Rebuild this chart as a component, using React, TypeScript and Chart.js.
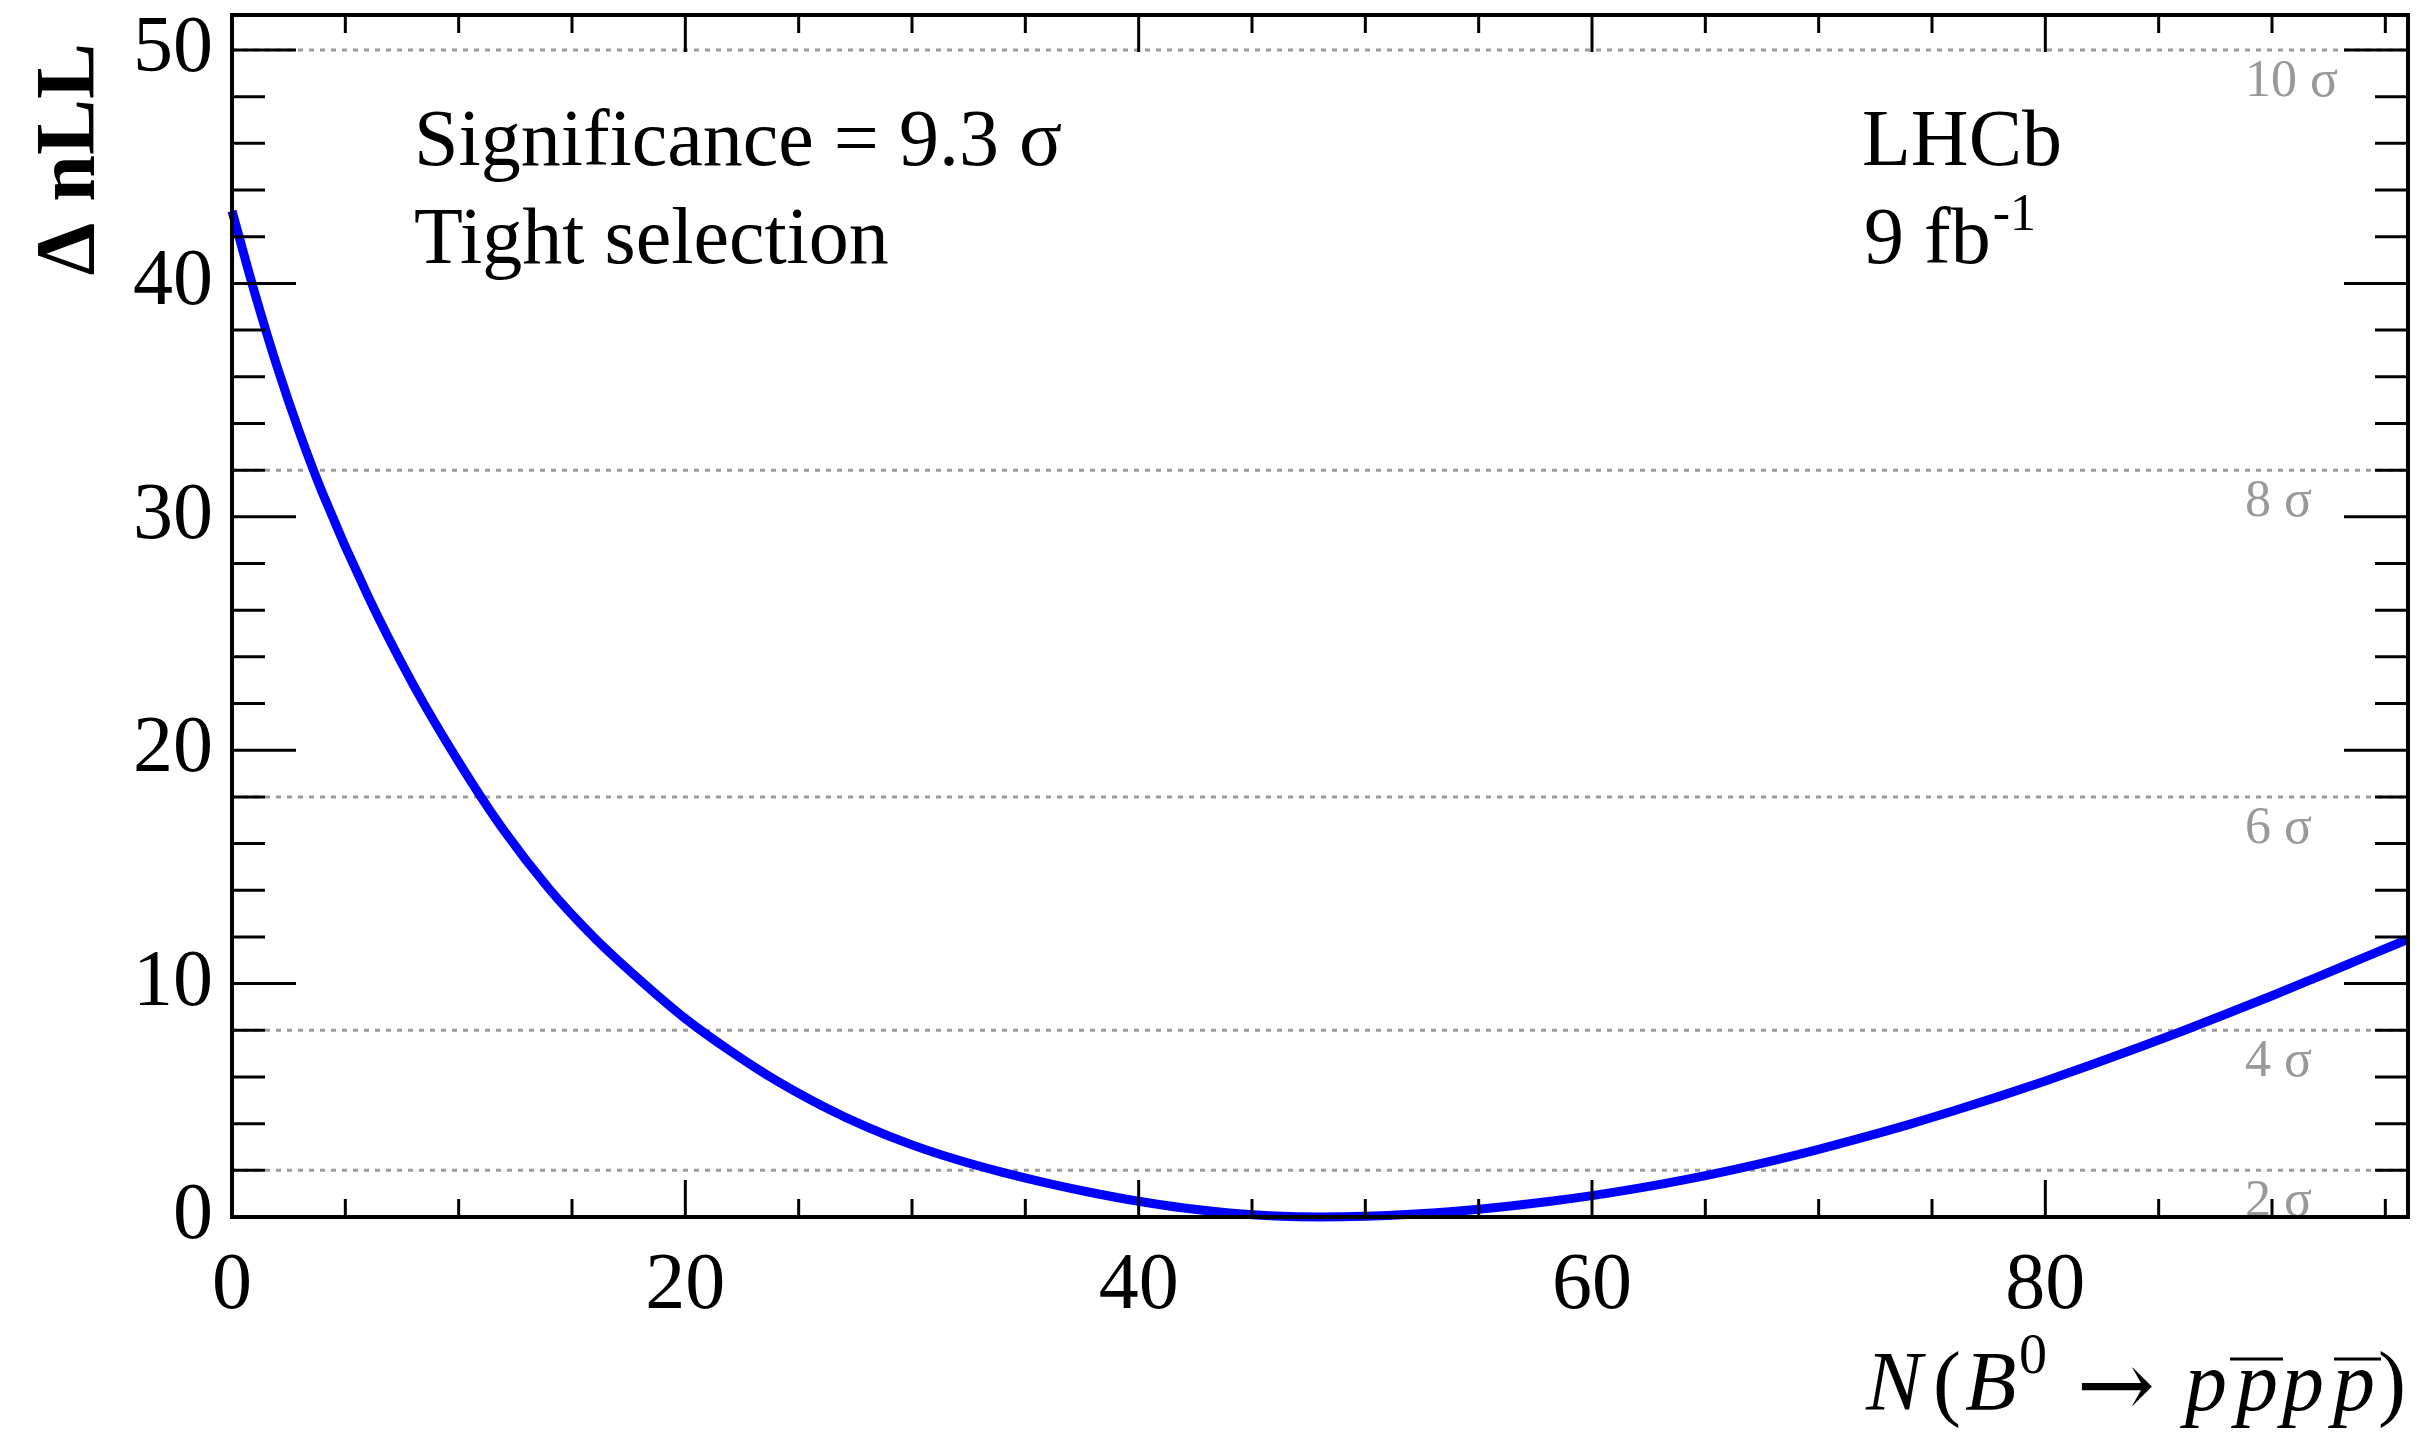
import React, { useEffect, useRef } from 'react';
import { Chart, registerables } from 'chart.js';

Chart.register(...registerables);

// ---------------- data ----------------
const nValues = [0, 1, 2, 3, 4, 6, 8, 10, 12, 14, 16, 18, 20, 22, 24, 26, 28, 30, 32, 34, 36, 38, 40, 42, 44, 46, 48, 50, 52, 54, 56, 58, 60, 62, 64, 66, 68, 70, 72, 74, 76, 78, 80, 82, 84, 86, 88, 90, 92, 94, 96];
const dnllValues = [43.1, 39.6, 36.4, 33.55, 31.0, 26.6, 22.8, 19.5, 16.55, 14.05, 11.95, 10.15, 8.5, 7.1, 5.85, 4.78, 3.86, 3.09, 2.45, 1.91, 1.44, 1.03, 0.675, 0.385, 0.175, 0.045, 0.0, 0.03, 0.115, 0.25, 0.43, 0.65, 0.915, 1.225, 1.58, 1.98, 2.42, 2.9, 3.42, 3.97, 4.56, 5.18, 5.83, 6.51, 7.22, 7.95, 8.71, 9.48, 10.28, 11.09, 11.9];

const sigmaLevels = [2, 4, 6, 8, 10];
const sigmaDnll = [2, 8, 18, 32, 50];
const sigmaLabels = ['2 σ', '4 σ', '6 σ', '8 σ', '10 σ'];

const xTickValues = [0, 20, 40, 60, 80];
const xTickLabels = ['0', '20', '40', '60', '80'];
const yTickValues = [0, 10, 20, 30, 40, 50];
const yTickLabels = ['0', '10', '20', '30', '40', '50'];

const X_MIN = 0;
const X_MAX = 96;
const Y_MIN = 0;
const Y_MAX = 51.5;
const X_MINOR_STEP = 5;
const X_MAJOR_STEP = 20;
const Y_MINOR_STEP = 2;
const Y_MAJOR_STEP = 10;

// ---------------- layout ----------------
const W = 2423;
const H = 1435;
const SERIF = "'Liberation Serif', 'Times New Roman', serif";

function line(ctx: CanvasRenderingContext2D, x1: number, y1: number, x2: number, y2: number) {
  ctx.beginPath();
  ctx.moveTo(x1, y1);
  ctx.lineTo(x2, y2);
  ctx.stroke();
}

const sigmaLabelPlugin = {
  id: 'sigmaLabels',
  beforeDatasetsDraw(chart: any) {
    const ctx: CanvasRenderingContext2D = chart.ctx;
    const { left, right, top, bottom } = chart.chartArea;
    const ys = chart.scales.y;
    ctx.save();
    ctx.beginPath();
    ctx.rect(left, top, right - left, bottom - top);
    ctx.clip();
    ctx.fillStyle = '#999999';
    ctx.font = `52px ${SERIF}`;
    ctx.textAlign = 'left';
    ctx.textBaseline = 'alphabetic';
    sigmaDnll.forEach((v, i) => {
      const py = ys.getPixelForValue(v);
      ctx.fillText(sigmaLabels[i], 2245, py + 46);
    });
    ctx.restore();
  },
};

const framePlugin = {
  id: 'rootFrame',
  afterDraw(chart: any) {
    const ctx: CanvasRenderingContext2D = chart.ctx;
    const { left, right, top, bottom } = chart.chartArea;
    const xs = chart.scales.x;
    const ys = chart.scales.y;
    ctx.save();
    ctx.strokeStyle = '#000';
    ctx.lineCap = 'butt';
    // ticks
    ctx.lineWidth = 3;
    for (let v = X_MIN; v <= X_MAX + 1e-9; v += X_MINOR_STEP) {
      const major = Math.abs(v % X_MAJOR_STEP) < 1e-9;
      const len = major ? 37 : 18;
      const px = xs.getPixelForValue(v);
      line(ctx, px, bottom, px, bottom - len);
      line(ctx, px, top, px, top + len);
    }
    for (let v = Y_MIN; v <= Y_MAX + 1e-9; v += Y_MINOR_STEP) {
      const major = Math.abs(v % Y_MAJOR_STEP) < 1e-9;
      const len = major ? 64 : 33;
      const py = ys.getPixelForValue(v);
      line(ctx, left, py, left + len, py);
      line(ctx, right, py, right - len, py);
    }
    // frame
    ctx.lineWidth = 4;
    ctx.strokeRect(left, top, right - left, bottom - top);

    // annotations
    ctx.fillStyle = '#000';
    ctx.textAlign = 'left';
    ctx.textBaseline = 'alphabetic';
    ctx.font = `80px ${SERIF}`;
    ctx.fillText('Significance = 9.3 σ', 414, 165);
    ctx.fillText('Tight selection', 414, 263);
    ctx.fillText('LHCb', 1862, 165);
    ctx.fillText('9 fb', 1864, 263);
    const w9 = ctx.measureText('9 fb').width;
    ctx.font = `52px ${SERIF}`;
    ctx.fillText('-1', 1864 + w9 + 2, 230);

    // y title
    ctx.save();
    ctx.translate(94, 43);
    ctx.rotate(-Math.PI / 2);
    ctx.font = `bold 84px ${SERIF}`;
    ctx.textAlign = 'right';
    ctx.fillText('Δ nLL', 0, 0);
    ctx.restore();

    // x title: N(B^0 -> p pbar p pbar)
    const big = 84;
    const S = 1866;
    const baseline = 1410;
    const ital = `italic ${big}px ${SERIF}`;
    const norm = `${big}px ${SERIF}`;
    const pieces = [
      { t: 'N', f: ital, x: 0, dy: 0 },
      { t: '(', f: norm, x: 67, dy: 0 },
      { t: 'B', f: ital, x: 99, dy: 0 },
      { t: '0', f: `56px ${SERIF}`, x: 153, dy: -37 },
      { t: 'p', f: ital, x: 319, dy: 0 },
      { t: 'p', f: ital, x: 370, dy: 0 },
      { t: 'p', f: ital, x: 416, dy: 0 },
      { t: 'p', f: ital, x: 467, dy: 0 },
      { t: ')', f: norm, x: 512, dy: 0 },
    ];
    pieces.forEach((p) => {
      ctx.font = p.f;
      ctx.fillText(p.t, S + p.x, baseline + p.dy);
    });
    // overlines (anti-proton bars)
    ctx.lineWidth = 3;
    line(ctx, S + 364, baseline - 51, S + 417, baseline - 51);
    line(ctx, S + 468, baseline - 51, S + 515, baseline - 51);
    // arrow
    ctx.font = `94px 'DejaVu Serif', serif`;
    ctx.textAlign = 'center';
    ctx.textBaseline = 'middle';
    ctx.fillText('→', S + 250, baseline - 17);
    ctx.restore();
  },
};

export default function App() {
  const ref = useRef<HTMLCanvasElement>(null);
  useEffect(() => {
    document.body.style.margin = '0';
    const sigmaSets = sigmaDnll.map((v, i) => ({
      label: `${sigmaLevels[i]} sigma`,
      data: [{ x: X_MIN, y: v }, { x: X_MAX, y: v }],
      borderColor: '#9c9c9c',
      borderWidth: 3,
      borderDash: [5, 6],
      pointRadius: 0,
      order: 2,
    }));
    const chart = new Chart(ref.current as HTMLCanvasElement, {
      type: 'line',
      data: {
        datasets: [
          {
            label: 'dnll',
            data: nValues.map((n, i) => ({ x: n, y: dnllValues[i] })),
            borderColor: '#0000ff',
            borderWidth: 9,
            pointRadius: 0,
            cubicInterpolationMode: 'monotone',
            order: 0,
            clip: 6,
          } as any,
          ...sigmaSets,
        ],
      },
      options: {
        responsive: false,
        animation: false,
        devicePixelRatio: 1,
        layout: { padding: { top: 15, right: 15, left: 0, bottom: 0 } },
        plugins: { legend: { display: false }, tooltip: { enabled: false } },
        scales: {
          x: {
            type: 'linear',
            min: X_MIN,
            max: X_MAX,
            grid: { display: false, drawTicks: false },
            border: { display: false },
            ticks: {
              color: '#000',
              font: { family: SERIF, size: 80 },
              padding: 22,
              maxRotation: 0,
              autoSkip: false,
              callback: (v: any) => {
                const i = xTickValues.indexOf(Number(v));
                return i >= 0 ? xTickLabels[i] : '';
              },
            },
            afterBuildTicks: (s: any) => {
              s.ticks = xTickValues.map((v) => ({ value: v }));
            },
            afterFit: (s: any) => {
              s.height = 218;
              s.paddingLeft = 0;
              s.paddingRight = 0;
            },
          } as any,
          y: {
            type: 'linear',
            min: Y_MIN,
            max: Y_MAX,
            grid: { display: false, drawTicks: false },
            border: { display: false },
            ticks: {
              color: '#000',
              font: { family: SERIF, size: 80 },
              padding: 19,
              autoSkip: false,
              callback: (v: any) => {
                const i = yTickValues.indexOf(Number(v));
                return i >= 0 ? yTickLabels[i] : '';
              },
            },
            afterBuildTicks: (s: any) => {
              s.ticks = yTickValues.map((v) => ({ value: v }));
            },
            afterFit: (s: any) => {
              s.width = 232;
              s.paddingTop = 0;
              s.paddingBottom = 0;
            },
          } as any,
        },
      },
      plugins: [sigmaLabelPlugin, framePlugin],
    });
    return () => chart.destroy();
  }, []);
  return (
    <div style={{ position: 'absolute', left: 0, top: 0, width: W, height: H, background: '#fff' }}>
      <canvas ref={ref} width={W} height={H} style={{ display: 'block', width: W, height: H }} />
    </div>
  );
}
